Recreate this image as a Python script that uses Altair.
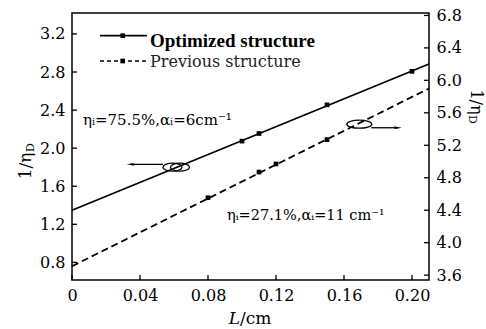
import altair as alt
import pandas as pd

# ---------------- data ----------------
x_dom = [0.0, 0.21]
left_dom = [0.615, 3.42]
right_dom = [3.54, 6.83]

x_ticks = [0.0, 0.04, 0.08, 0.12, 0.16, 0.20]
left_ticks = [0.8, 1.2, 1.6, 2.0, 2.4, 2.8, 3.2]
right_ticks = [3.6, 4.0, 4.4, 4.8, 5.2, 5.6, 6.0, 6.4, 6.8]

# Optimized structure (left axis)
opt_x = [0.10, 0.11, 0.15, 0.20]
opt_y = [2.074, 2.154, 2.455, 2.807]
opt_fit_x = [0.0, 0.21]
opt_fit_y = [1.348, 2.884]

# Previous structure (right axis)
prev_x = [0.08, 0.11, 0.12, 0.15]
prev_y = [4.554, 4.87, 4.97, 5.27]
prev_fit_x = [0.0, 0.21]
prev_fit_y = [3.71, 5.90]

# annotation ellipses / arrows (data coordinates)
ell_left_x = [0.0591, 0.0635]
ell_left_y = [1.80, 1.80]
arr_left_x = [0.0535]
arr_left_x2 = [0.0345]
arr_left_y = [1.83]
ell_right_x = [0.169]
ell_right_y = [5.46]
arr_right_x = [0.176]
arr_right_x2 = [0.1916]
arr_right_y = [5.416]

legend_labels = ["Optimized structure", "Previous structure"]
note_opt = "ηᵢ=75.5%,αᵢ=6cm⁻¹"
note_prev = "ηᵢ=27.1%,αᵢ=11 cm⁻¹"

# ---------------- layout ----------------
W, H = 357, 267
FONT = "DejaVu Serif"
INK = "black"

x_axis = alt.Axis(values=x_ticks, title=None, grid=False, ticks=False, tickSize=0, domain=False,
                  labelExpr="datum.value == 0 ? '0' : format(datum.value, '.2f')",
                  labelFont=FONT, labelFontSize=16, labelColor=INK, labelPadding=7, labelFlush=False)
left_axis = alt.Axis(values=left_ticks, title=None, grid=False, ticks=False, tickSize=0, domain=False,
                     format=".1f", orient="left",
                     labelFont=FONT, labelFontSize=16, labelColor=INK, labelPadding=7)
right_axis = alt.Axis(values=right_ticks, title=None, grid=False, ticks=False, tickSize=0, domain=False,
                      format=".1f", orient="right",
                      labelFont=FONT, labelFontSize=16, labelColor=INK, labelPadding=7)

xs = alt.Scale(domain=x_dom, nice=False, zero=False)
ls = alt.Scale(domain=left_dom, nice=False, zero=False)
rs = alt.Scale(domain=right_dom, nice=False, zero=False)


def X(f):
    return alt.X(f, type="quantitative", scale=xs, axis=x_axis)


def X2(f):
    return alt.X2(f)


def YL(f):
    return alt.Y(f, type="quantitative", scale=ls, axis=left_axis)


def YR(f):
    return alt.Y(f, type="quantitative", scale=rs, axis=right_axis)


def ellipse(ry):
    k = round(0.552 * ry, 3)
    return (f"M-1,0 C-1,{-k} -0.552,{-ry} 0,{-ry} C0.552,{-ry} 1,{-k} 1,0 "
            f"C1,{k} 0.552,{ry} 0,{ry} C-0.552,{ry} -1,{k} -1,0 Z")


head_left = "M-1,0 L1,-0.35 L0.5,0 L1,0.35 Z"
head_right = "M1,0 L-1,-0.35 L-0.5,0 L-1,0.35 Z"

one = pd.DataFrame({"t": [""]})

# ---------------- left-axis layer ----------------
opt_fit = alt.Chart(pd.DataFrame({"x": opt_fit_x, "y": opt_fit_y})).mark_line(
    color=INK, strokeWidth=1.8).encode(x=X("x"), y=YL("y"))
opt_pts = alt.Chart(pd.DataFrame({"x": opt_x, "y": opt_y})).mark_point(
    shape="square", filled=True, size=22, color=INK, opacity=1).encode(x=X("x"), y=YL("y"))
ell_l = alt.Chart(pd.DataFrame({"x": ell_left_x, "y": ell_left_y})).mark_point(
    shape=ellipse(0.42), size=361, filled=False, color=INK, strokeWidth=1.3, opacity=1).encode(
    x=X("x"), y=YL("y"))
arr_l = alt.Chart(pd.DataFrame({"x": arr_left_x, "x2": arr_left_x2, "y": arr_left_y})).mark_rule(
    color=INK, strokeWidth=1.3).encode(x=X("x"), x2=X2("x2"), y=YL("y"))
head_l = alt.Chart(pd.DataFrame({"x": arr_left_x2, "y": arr_left_y})).mark_point(
    shape=head_left, size=64, filled=True, color=INK, opacity=1).encode(x=X("x"), y=YL("y"))

lt = alt.Chart(pd.DataFrame({"v": left_ticks})).mark_rule(color=INK, strokeWidth=1.3).encode(
    y=YL("v"), x=alt.value(0), x2=alt.value(5))
bt = alt.Chart(pd.DataFrame({"v": x_ticks})).mark_rule(color=INK, strokeWidth=1.3).encode(
    x=X("v"), y=alt.value(H), y2=alt.value(H - 5))

# legend (drawn inside the plot, top-left)
leg_line1 = alt.Chart(one).mark_rule(color=INK, strokeWidth=1.8).encode(
    x=alt.value(28), x2=alt.value(75), y=alt.value(22.7))
leg_pt1 = alt.Chart(one).mark_point(shape="square", filled=True, size=22, color=INK, opacity=1).encode(
    x=alt.value(50.7), y=alt.value(22.7))
leg_line2 = alt.Chart(one).mark_rule(color=INK, strokeWidth=1.6, strokeDash=[4, 3]).encode(
    x=alt.value(28), x2=alt.value(76), y=alt.value(48))
leg_pt2 = alt.Chart(one).mark_point(shape="square", filled=True, size=22, color=INK, opacity=1).encode(
    x=alt.value(50.7), y=alt.value(48))
leg_t1 = alt.Chart(pd.DataFrame({"t": [legend_labels[0]]})).mark_text(
    font="Liberation Serif", fontSize=19, fontWeight="bold", align="left", baseline="alphabetic",
    color=INK).encode(x=alt.value(78), y=alt.value(33.5), text="t:N")
leg_t2 = alt.Chart(pd.DataFrame({"t": [legend_labels[1]]})).mark_text(
    font=FONT, fontSize=16, align="left", baseline="alphabetic", color="#222").encode(
    x=alt.value(78), y=alt.value(53.5), text="t:N")

note1 = alt.Chart(pd.DataFrame({"t": [note_opt]})).mark_text(
    font=FONT, fontSize=15, align="left", baseline="alphabetic", color=INK).encode(
    x=alt.value(11), y=alt.value(112), text="t:N")
note2 = alt.Chart(pd.DataFrame({"t": [note_prev]})).mark_text(
    font=FONT, fontSize=14.5, align="left", baseline="alphabetic", color=INK).encode(
    x=alt.value(155), y=alt.value(207), text="t:N")

# axis titles
lt_main = alt.Chart(pd.DataFrame({"t": ["1/η"]})).mark_text(
    font=FONT, fontSize=17, angle=270, align="center", baseline="middle", color=INK).encode(
    x=alt.value(-46), y=alt.value(153), text="t:N")
lt_sub = alt.Chart(pd.DataFrame({"t": ["D"]})).mark_text(
    font=FONT, fontSize=11, angle=270, align="center", baseline="middle", color=INK).encode(
    x=alt.value(-41), y=alt.value(134.5), text="t:N")
rt_main = alt.Chart(pd.DataFrame({"t": ["1/η"]})).mark_text(
    font=FONT, fontSize=16, angle=90, align="center", baseline="middle", color=INK).encode(
    x=alt.value(404), y=alt.value(89), text="t:N")
rt_sub = alt.Chart(pd.DataFrame({"t": ["D"]})).mark_text(
    font=FONT, fontSize=11, angle=90, align="center", baseline="middle", color=INK).encode(
    x=alt.value(399.5), y=alt.value(106.5), text="t:N")
xt_l = alt.Chart(pd.DataFrame({"t": ["L"]})).mark_text(
    font=FONT, fontSize=17, fontStyle="italic", align="right", baseline="alphabetic", color=INK).encode(
    x=alt.value(168), y=alt.value(311), text="t:N")
xt_cm = alt.Chart(pd.DataFrame({"t": ["/cm"]})).mark_text(
    font=FONT, fontSize=17, align="left", baseline="alphabetic", color=INK).encode(
    x=alt.value(168), y=alt.value(311), text="t:N")

left_layer = alt.layer(lt, bt, opt_fit, opt_pts, ell_l, arr_l, head_l,
                       leg_line1, leg_pt1, leg_line2, leg_pt2, leg_t1, leg_t2,
                       note1, note2, lt_main, lt_sub, rt_main, rt_sub, xt_l, xt_cm)

# ---------------- right-axis layer ----------------
prev_fit = alt.Chart(pd.DataFrame({"x": prev_fit_x, "y": prev_fit_y})).mark_line(
    color=INK, strokeWidth=1.8, strokeDash=[7, 4]).encode(x=X("x"), y=YR("y"))
prev_pts = alt.Chart(pd.DataFrame({"x": prev_x, "y": prev_y})).mark_point(
    shape="square", filled=True, size=22, color=INK, opacity=1).encode(x=X("x"), y=YR("y"))
ell_r = alt.Chart(pd.DataFrame({"x": ell_right_x, "y": ell_right_y})).mark_point(
    shape=ellipse(0.32), size=625, filled=False, color=INK, strokeWidth=1.3, opacity=1).encode(
    x=X("x"), y=YR("y"))
arr_r = alt.Chart(pd.DataFrame({"x": arr_right_x, "x2": arr_right_x2, "y": arr_right_y})).mark_rule(
    color=INK, strokeWidth=1.3).encode(x=X("x"), x2=X2("x2"), y=YR("y"))
head_r = alt.Chart(pd.DataFrame({"x": arr_right_x2, "y": arr_right_y})).mark_point(
    shape=head_right, size=64, filled=True, color=INK, opacity=1).encode(x=X("x"), y=YR("y"))
rtk = alt.Chart(pd.DataFrame({"v": right_ticks})).mark_rule(color=INK, strokeWidth=1.3).encode(
    y=YR("v"), x=alt.value(W), x2=alt.value(W - 5))

right_layer = alt.layer(rtk, prev_fit, prev_pts, ell_r, arr_r, head_r)

chart = alt.layer(left_layer, right_layer).resolve_scale(y="independent").properties(
    width=W, height=H,
    padding={"left": 72, "top": 13, "right": 486 - 72 - W, "bottom": 329 - 13 - H},
    autosize=alt.AutoSizeParams(type="none"),
    background="white",
).configure_view(stroke=INK, strokeWidth=1.5)

chart.save("out.html", embed_options={"renderer": "svg", "actions": False})
